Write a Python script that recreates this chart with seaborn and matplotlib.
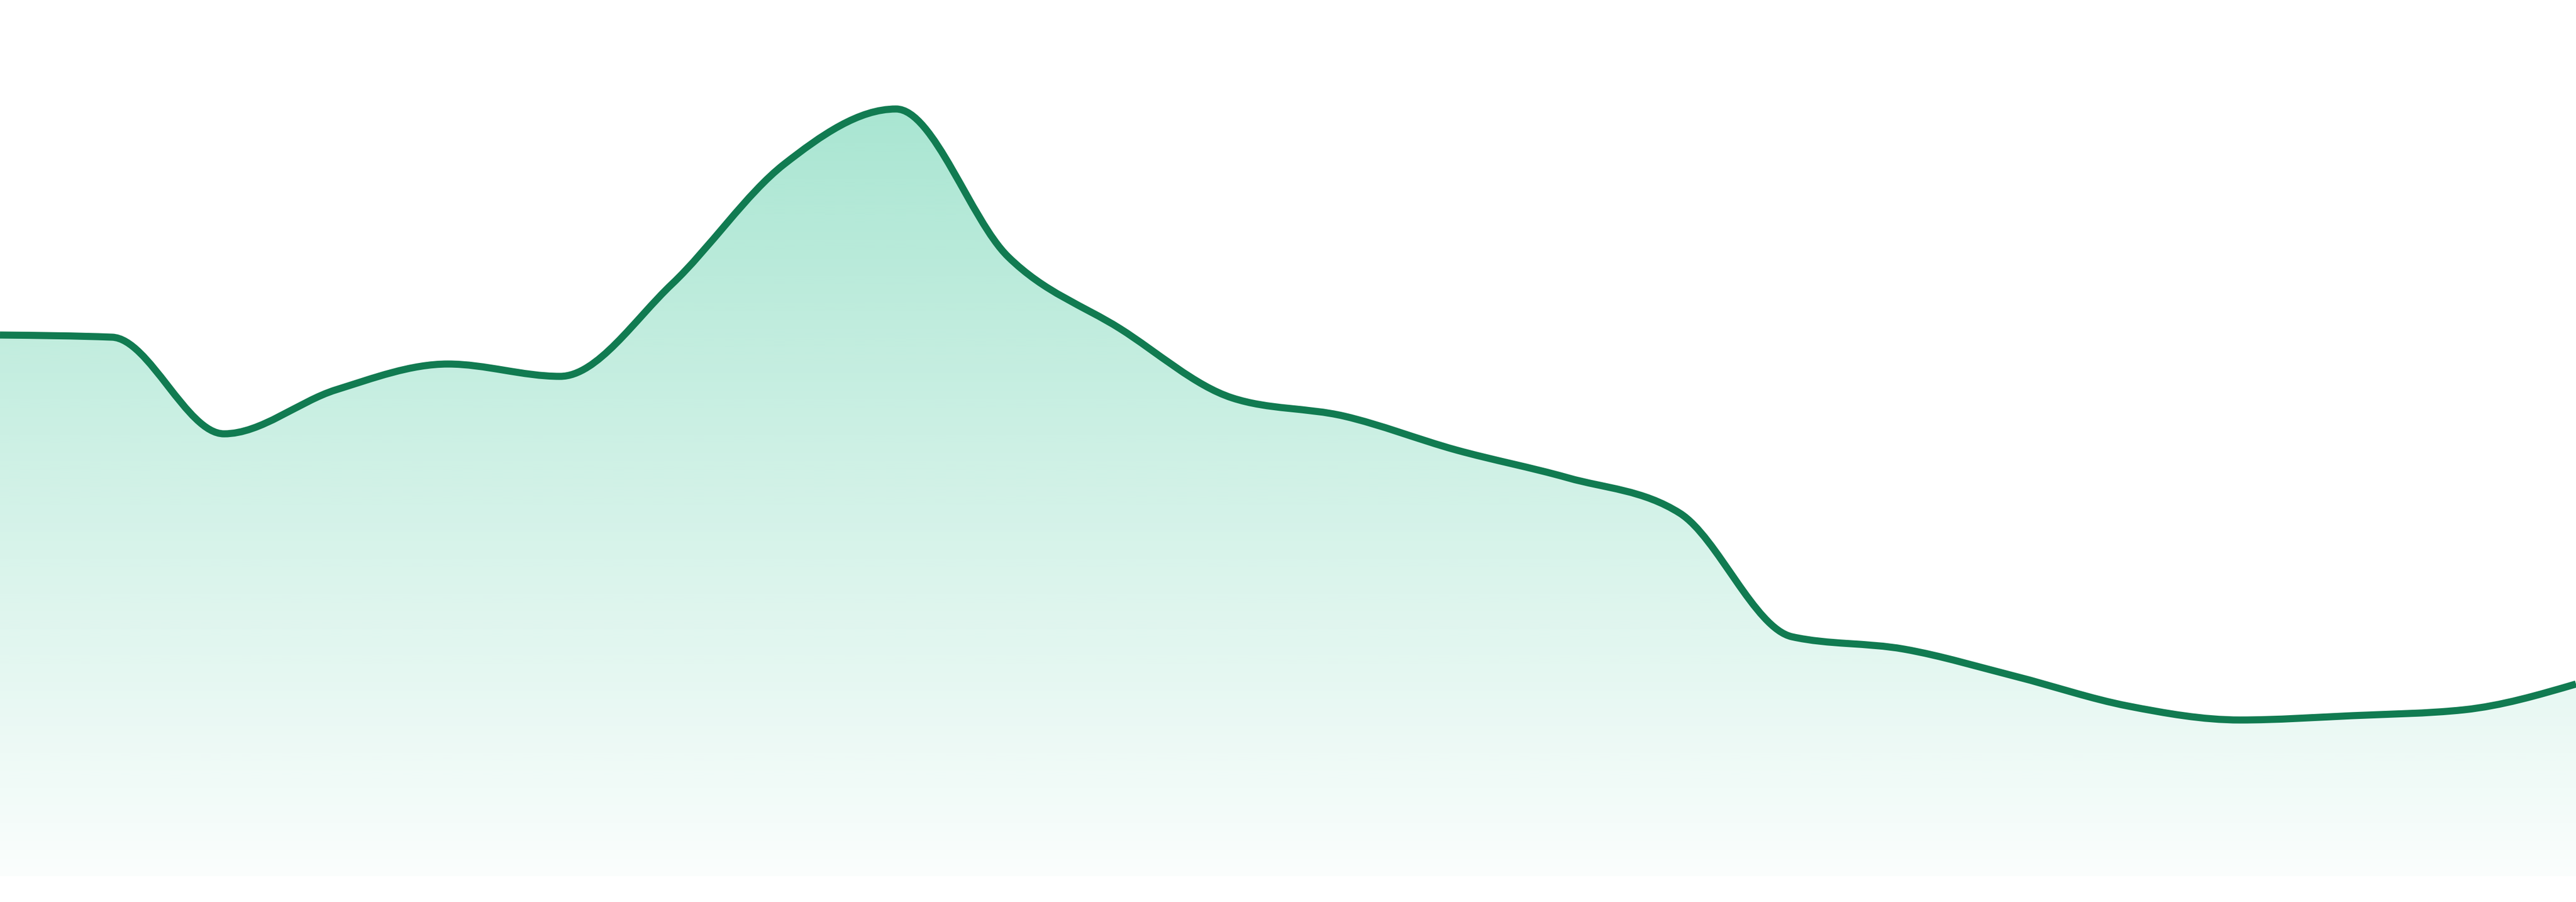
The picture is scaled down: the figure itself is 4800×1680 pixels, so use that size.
import matplotlib
matplotlib.use("Agg")
import matplotlib.pyplot as plt
from matplotlib.path import Path
from matplotlib.patches import PathPatch
from matplotlib.colors import to_rgb
import numpy as np
import seaborn as sns

# data: 24 evenly spaced samples
positions = list(range(24))
values = [100.8, 100.4, 82.4, 90.6, 95.4, 93.1, 110.3, 132.6, 142.9, 115.4,
          102.0, 89.1, 85.7, 79.4, 74.2, 67.6, 44.6, 42.3, 37.2, 31.7,
          29.1, 29.9, 31.0, 35.8]

LINE_COLOR = "#117b51"
FILL_COLOR = "#10b981"
Y_MIN, Y_MAX = -4.8, 163.2


def monotone_tangents(x, y):
    """Tangents of a monotone cubic (same rule as d3.curveMonotoneX)."""
    x = np.asarray(x, float)
    y = np.asarray(y, float)
    n = len(x)
    h = np.diff(x)
    s = np.diff(y) / h
    t = np.zeros(n)
    for i in range(1, n - 1):
        s0, s1 = s[i - 1], s[i]
        p = (s0 * h[i] + s1 * h[i - 1]) / (h[i - 1] + h[i])
        t[i] = (np.sign(s0) + np.sign(s1)) * min(abs(s0), abs(s1), 0.5 * abs(p))
    t[0] = (3 * s[0] - t[1]) / 2
    t[-1] = (3 * s[-1] - t[-2]) / 2
    return t


def curve_vertices(x, y):
    t = monotone_tangents(x, y)
    verts = [(x[0], y[0])]
    codes = [Path.MOVETO]
    for i in range(len(x) - 1):
        dx = (x[i + 1] - x[i]) / 3
        verts += [(x[i] + dx, y[i] + dx * t[i]),
                  (x[i + 1] - dx, y[i + 1] - dx * t[i + 1]),
                  (x[i + 1], y[i + 1])]
        codes += [Path.CURVE4] * 3
    return verts, codes


sns.set_theme(style="white")

fig = plt.figure(figsize=(48, 16.8), dpi=100)
ax = fig.add_axes([0, 0, 1, 1])
ax.set_xlim(positions[0], positions[-1])
ax.set_ylim(Y_MIN, Y_MAX)
ax.set_axis_off()

verts, codes = curve_vertices(positions, values)

# area under the curve, filled with a vertical gradient
area_verts = verts + [(positions[-1], 0), (positions[0], 0), verts[0]]
area_codes = codes + [Path.LINETO, Path.LINETO, Path.CLOSEPOLY]
area = PathPatch(Path(area_verts, area_codes), facecolor="none",
                 edgecolor="none", transform=ax.transData)
ax.add_patch(area)

top = max(values)
alpha = np.linspace(0.36, 0.02, 400)
grad = np.zeros((400, 1, 4))
grad[:, 0, :3] = to_rgb(FILL_COLOR)
grad[:, 0, 3] = alpha
img = ax.imshow(grad, extent=[positions[0], positions[-1], 0, top],
                aspect="auto", origin="upper", interpolation="bilinear",
                zorder=1)
img.set_clip_path(area)

line = PathPatch(Path(verts, codes), facecolor="none", edgecolor=LINE_COLOR,
                 linewidth=9.5, joinstyle="round", capstyle="butt", zorder=2)
ax.add_patch(line)

ax.set_xlim(positions[0], positions[-1])
ax.set_ylim(Y_MIN, Y_MAX)

fig.savefig("out.png", dpi=100, facecolor="white")
